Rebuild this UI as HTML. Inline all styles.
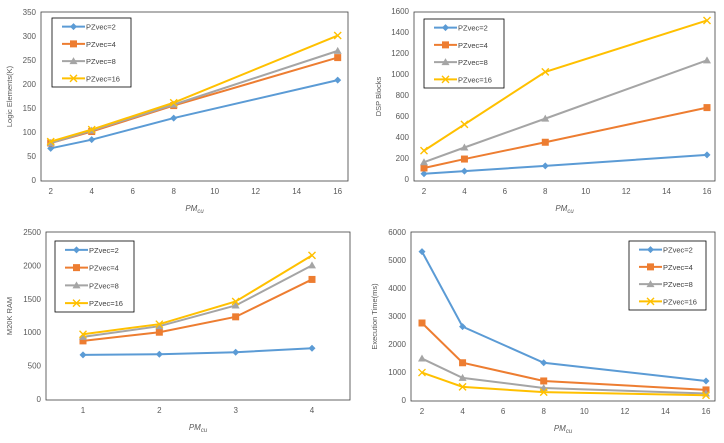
<!DOCTYPE html>
<html><head><meta charset="utf-8"><style>
body{margin:0;background:#fff;width:724px;height:438px;overflow:hidden;font-family:"Liberation Sans",sans-serif}
svg text{font-family:"Liberation Sans",sans-serif}
</style></head><body>
<svg id="root" width="724" height="438" viewBox="0 0 724 438" xmlns="http://www.w3.org/2000/svg"></svg>
<script>
const seriesNames = ["PZvec=2","PZvec=4","PZvec=8","PZvec=16"];
const colors = ["#5b9bd5","#ed7d31","#a5a5a5","#ffc000"];
const markers = ["diamond","square","triangle","x"];
const c1Cats = [2,4,8,16];
const c1S2 = [66,84,129,208];
const c1S4 = [77,101,155,255];
const c1S8 = [77,103,157,269];
const c1S16 = [80,105,161,301];
const c1YTicks = [0,50,100,150,200,250,300,350];
const c1XTicks = [2,4,6,8,10,12,14,16];
const c2Cats = [2,4,8,16];
const c2S2 = [50,75,125,230];
const c2S4 = [105,190,350,680];
const c2S8 = [160,300,575,1130];
const c2S16 = [270,520,1020,1510];
const c2YTicks = [0,200,400,600,800,1000,1200,1400,1600];
const c2XTicks = [2,4,6,8,10,12,14,16];
const c3Cats = [1,2,3,4];
const c3S2 = [660,670,700,760];
const c3S4 = [870,1000,1230,1790];
const c3S8 = [930,1090,1400,2000];
const c3S16 = [970,1120,1460,2150];
const c3YTicks = [0,500,1000,1500,2000,2500];
const c3XTicks = [1,2,3,4];
const c4Cats = [2,4,8,16];
const c4S2 = [5300,2620,1330,680];
const c4S4 = [2750,1330,680,360];
const c4S8 = [1480,790,430,230];
const c4S16 = [980,470,280,170];
const c4YTicks = [0,1000,2000,3000,4000,5000,6000];
const c4XTicks = [2,4,6,8,10,12,14,16];

const NS="http://www.w3.org/2000/svg";
const root=document.getElementById('root');
function mk(tag,attrs,parent){const e=document.createElementNS(NS,tag);for(const k in attrs)e.setAttribute(k,attrs[k]);(parent||root).appendChild(e);return e;}

function drawMarker(g,type,x,y,c){
  let m;
  if(type==="diamond") m=mk('polygon',{points:`${x},${y-3.5} ${x+3.5},${y} ${x},${y+3.5} ${x-3.5},${y}`,fill:c},g);
  else if(type==="square") m=mk('rect',{x:x-3.5,y:y-3.5,width:7,height:7,fill:c},g);
  else if(type==="triangle") m=mk('polygon',{points:`${x},${y-4} ${x+4},${y+3} ${x-4},${y+3}`,fill:c},g);
  else { m=mk('path',{d:`M${x-3.5},${y-3.5}L${x+3.5},${y+3.5}M${x+3.5},${y-3.5}L${x-3.5},${y+3.5}`,stroke:c,'stroke-width':1.4,fill:'none'},g); }
  
  
}

function chart(cfg){
  const g=mk('g',{});
  
  
  const fx=v=>cfg.x0+(v-cfg.xmin)*(cfg.x1-cfg.x0)/(cfg.xmax-cfg.xmin);
  const fy=v=>cfg.y0-(v-0)*(cfg.y0-cfg.y1)/cfg.ymax;
  const box=mk('rect',{x:cfg.bx0,y:cfg.by0,width:cfg.bx1-cfg.bx0,height:cfg.by1-cfg.by0,fill:'none',stroke:'#404040','stroke-width':0.8},g);
  
  
  cfg.yTicks.forEach(t=>{const e=mk('text',{x:cfg.bx0-5,y:fy(t)+3,'font-size':8,fill:'#595959','text-anchor':'end'},g);e.textContent=t;
    
    });
  cfg.xTicks.forEach(t=>{const e=mk('text',{x:fx(t),y:cfg.by1+13,'font-size':8,fill:'#595959','text-anchor':'middle'},g);e.textContent=t;
    
    });
  const yt=mk('text',{x:0,y:0,'font-size':7.5,fill:'#595959','text-anchor':'middle',transform:`translate(${cfg.ytx},${(cfg.by0+cfg.by1)/2}) rotate(-90)`},g);
  yt.textContent=cfg.ytitle;
  
  
  const xt=mk('text',{x:(cfg.bx0+cfg.bx1)/2,y:cfg.by1+30,'font-size':8,fill:'#595959','text-anchor':'middle','font-style':'italic'},g);
  xt.innerHTML='PM<tspan font-size="6" dy="2">cu</tspan>';
  
  
  cfg.series.forEach((s,i)=>{
    const pts=s.map((v,j)=>fx(cfg.cats[j])+','+fy(v)).join(' ');
    const l=mk('polyline',{points:pts,fill:'none',stroke:colors[i],'stroke-width':2},g);
    
    
    s.forEach((v,j)=>drawMarker(g,markers[i],fx(cfg.cats[j]),fy(v),colors[i]));
  });
  const L=cfg.leg;
  const lb=mk('rect',{x:L[0],y:L[1],width:L[2]-L[0],height:L[3]-L[1],fill:'#fff',stroke:'#000','stroke-width':0.8},g);
  
  
  const step=(L[3]-L[1])/4;
  seriesNames.forEach((n,i)=>{
    const y=L[1]+step*(i+0.5);
    const ln=mk('line',{x1:L[0]+10,x2:L[0]+33,y1:y,y2:y,stroke:colors[i],'stroke-width':2},g);
    
    
    drawMarker(g,markers[i],L[0]+21.5,y,colors[i]);
    const t=mk('text',{x:L[0]+34,y:y+3,'font-size':7.5,fill:'#404040'},g);
    t.textContent=n;
    
    
  });
}

chart({name:'logic-elements-chart',bx0:41,bx1:348,by0:12,by1:181,x0:50.7,x1:337.7,xmin:2,xmax:16,y0:180,y1:12,ymax:350,
  cats:c1Cats,series:[c1S2,c1S4,c1S8,c1S16],yTicks:c1YTicks,xTicks:c1XTicks,ytitle:'Logic Elements(K)',ytx:12,leg:[52,18,131,87]});
chart({name:'dsp-blocks-chart',bx0:414,bx1:715,by0:12,by1:181,x0:424,x1:707,xmin:2,xmax:16,y0:179,y1:11,ymax:1600,
  cats:c2Cats,series:[c2S2,c2S4,c2S8,c2S16],yTicks:c2YTicks,xTicks:c2XTicks,ytitle:'DSP Blocks',ytx:381,leg:[424,19,504,88]});
chart({name:'m20k-ram-chart',bx0:46,bx1:350,by0:232,by1:400,x0:83,x1:312,xmin:1,xmax:4,y0:399,y1:232,ymax:2500,
  cats:c3Cats,series:[c3S2,c3S4,c3S8,c3S16],yTicks:c3YTicks,xTicks:c3XTicks,ytitle:'M20K RAM',ytx:12,leg:[55,241,134,312]});
chart({name:'execution-time-chart',bx0:411,bx1:715,by0:232,by1:401,x0:422,x1:706,xmin:2,xmax:16,y0:400,y1:232,ymax:6000,
  cats:c4Cats,series:[c4S2,c4S4,c4S8,c4S16],yTicks:c4YTicks,xTicks:c4XTicks,ytitle:'Execution Time(ms)',ytx:377,leg:[629,241,706,310]});
</script>
</body></html>
